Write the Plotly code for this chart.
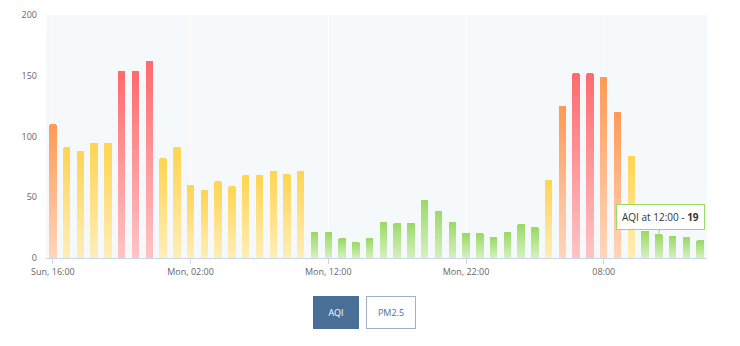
import plotly.graph_objects as go

# ---- data ----
hours = ["16:00","17:00","18:00","19:00","20:00","21:00","22:00","23:00",
         "00:00","01:00","02:00","03:00","04:00","05:00","06:00","07:00",
         "08:00","09:00","10:00","11:00","12:00","13:00","14:00","15:00",
         "16:00","17:00","18:00","19:00","20:00","21:00","22:00","23:00",
         "00:00","01:00","02:00","03:00","04:00","05:00","06:00","07:00",
         "08:00","09:00","10:00","11:00","12:00","13:00","14:00","15:00"]
aqi = [110, 91, 88, 95, 95, 154, 154, 162, 82, 91, 60, 56, 63, 59, 68, 68,
       72, 69, 72, 21, 21, 16, 13, 16, 30, 29, 29, 48, 39, 30, 20, 20,
       17, 21, 28, 25, 64, 125, 152, 152, 149, 120, 84, 22, 19, 18, 17, 14]
tick_index = [0, 10, 20, 30, 40]
tick_labels = ["Sun, 16:00", "Mon, 02:00", "Mon, 12:00", "Mon, 22:00", "08:00"]
tooltip_index = 44

# ---- styling ----
def level_color(v):
    if v <= 50:
        return (155, 218, 102)
    if v <= 100:
        return (255, 212, 79)
    if v <= 150:
        return (255, 153, 85)
    return (255, 106, 110)

def blend(c, t, base=(255, 255, 255)):
    return "rgb(%d,%d,%d)" % tuple(round(b + (ci - b) * t) for ci, b in zip(c, base))

N = 24
x = list(range(len(aqi)))
fig = go.Figure()
for k in range(N):
    # k=0 bottom segment (lightest), k=N-1 top (full colour)
    t = 0.4 + 0.6 * (k + 0.5) / N
    fig.add_trace(go.Bar(
        x=x, y=[v / N for v in aqi],
        marker=dict(color=[blend(level_color(v), t) for v in aqi], line=dict(width=0)),
        hoverinfo="skip", showlegend=False,
    ))

green = "rgb(155,218,102)"
fig.add_annotation(
    x=tooltip_index, y=aqi[tooltip_index], xref="x", yref="y",
    text="AQI at %s - <b>%d</b>" % (hours[tooltip_index], aqi[tooltip_index]),
    showarrow=True, arrowhead=0, arrowwidth=1, arrowcolor=green,
    ax=2, ay=-18, bgcolor="rgba(255,255,255,0.95)", bordercolor=green,
    borderwidth=1, borderpad=5, font=dict(size=10, color="#333"),
)

# buttons
fig.add_annotation(
    x=0.438, y=-0.226, xref="paper", yref="paper", xanchor="center", yanchor="middle",
    text="AQI", showarrow=False, width=44, height=31, bgcolor="#4a6f96",
    bordercolor="#4a6f96", borderwidth=1, borderpad=0,
    font=dict(size=9, color="white"),
)
fig.add_annotation(
    x=0.522, y=-0.226, xref="paper", yref="paper", xanchor="center", yanchor="middle",
    text="PM2.5", showarrow=False, width=48, height=31, bgcolor="white",
    bordercolor="#9fb2c6", borderwidth=1, borderpad=0,
    font=dict(size=9, color="#4a6f96"),
)

fig.update_layout(
    width=740, height=346,
    margin=dict(l=46, r=33, t=8, b=88),
    barmode="stack", bargap=0.46, barcornerradius=1,
    plot_bgcolor="#f6f9fb", paper_bgcolor="white",
    font=dict(family="Open Sans, sans-serif", color="#666"),
    xaxis=dict(
        range=[-0.5, len(aqi) - 0.5], tickvals=tick_index, ticktext=tick_labels,
        showgrid=True, gridcolor="white", gridwidth=1,
        ticks="outside", ticklen=5, tickcolor="#ccd6eb",
        showline=True, linecolor="#ccd6eb", linewidth=1,
        tickfont=dict(size=9, color="#666"), zeroline=False, fixedrange=True,
    ),
    yaxis=dict(
        range=[0, 200], tickvals=[0, 50, 100, 150, 200], showgrid=False,
        zeroline=False, tickfont=dict(size=9, color="#666"), ticks="",
        ticklabelstandoff=8, fixedrange=True,
    ),
)

fig.write_html("out.html")
